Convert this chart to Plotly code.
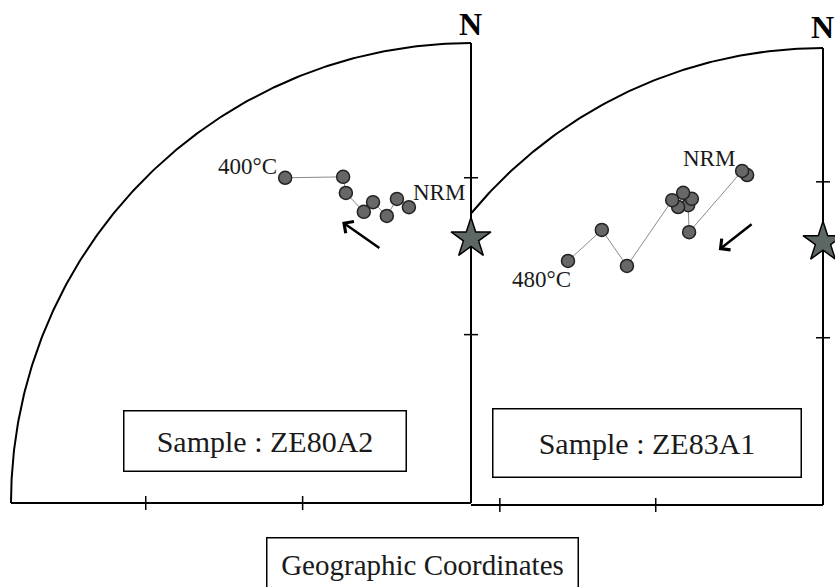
import numpy as np
import plotly.graph_objects as go

# ---------------- data (equal-area projection, east / north, unit radius) -------------
# Sample ZE80A2 : demagnetisation path from NRM to 400°C
ze80_east = [-0.135, -0.161, -0.183, -0.213, -0.233, -0.272, -0.278, -0.404]
ze80_north = [0.643, 0.661, 0.624, 0.654, 0.633, 0.674, 0.709, 0.707]
ze80_labels = ["NRM", "400°C"]

# Sample ZE83A1 : demagnetisation path from NRM to 480°C
ze83_east = [-0.166, -0.177, -0.293, -0.295, -0.287, -0.306, -0.317, -0.330, -0.429, -0.484, -0.558]
ze83_north = [0.722, 0.731, 0.597, 0.656, 0.670, 0.683, 0.652, 0.667, 0.523, 0.602, 0.534]
ze83_labels = ["NRM", "480°C"]

# arrows showing the direction of the path (tail -> head)
ze80_arrow = {"tail": (-0.196, 0.552), "head": (-0.280, 0.611)}
ze83_arrow = {"tail": (-0.153, 0.617), "head": (-0.228, 0.558)}

# reference direction (star) : declination 0, inclination ~42°
star_dec = 0.0
star_inc = 42.0
# inclination ticks on the net axes
tick_inc = [60, 30]

panel_titles = ["Sample : ZE80A2", "Sample : ZE83A1"]
footer = "Geographic Coordinates"


def eqarea_r(inc):
    return np.sqrt(2) * np.sin(np.radians((90 - np.asarray(inc, dtype=float)) / 2))


# ---------------- layout geometry -------------
W, H = 835, 587
SERIF = "Liberation Serif, Times New Roman, serif"

panels = [
    dict(cx=471, cy=503, R=460, xr=[-1.02, 0.03], yr=[-0.03, 1.03], xa="x", ya="y"),
    dict(cx=823, cy=505, R=457, xr=[-(823 - 471) / 457, 0.02], yr=[-0.03, 1.03], xa="x2", ya="y2"),
]

fig = go.Figure()

theta = np.linspace(np.pi / 2, np.pi, 200)
frame_style = dict(color="black", width=2)

data_sets = [
    (ze80_east, ze80_north, ze80_labels, ze80_arrow),
    (ze83_east, ze83_north, ze83_labels, ze83_arrow),
]

annotations = []
for i, p in enumerate(panels):
    xa, ya = p["xa"], p["ya"]
    # frame : quarter circle, vertical (N) axis, horizontal axis
    fig.add_trace(go.Scatter(x=np.cos(theta), y=np.sin(theta), mode="lines",
                             line=frame_style, xaxis=xa, yaxis=ya, hoverinfo="skip"))
    fig.add_trace(go.Scatter(x=[0, 0], y=[0, 1], mode="lines", line=frame_style,
                             xaxis=xa, yaxis=ya, hoverinfo="skip"))
    fig.add_trace(go.Scatter(x=[-1, 0], y=[0, 0], mode="lines", line=frame_style,
                             xaxis=xa, yaxis=ya, hoverinfo="skip"))
    # inclination ticks
    tr = eqarea_r(tick_inc)
    fig.add_trace(go.Scatter(x=-tr, y=[0] * len(tr), mode="markers",
                             marker=dict(symbol="line-ns", size=10, line=dict(color="black", width=1.5)),
                             xaxis=xa, yaxis=ya, cliponaxis=False, hoverinfo="skip"))
    fig.add_trace(go.Scatter(x=[0] * len(tr), y=tr, mode="markers",
                             marker=dict(symbol="line-ew", size=10, line=dict(color="black", width=1.5)),
                             xaxis=xa, yaxis=ya, cliponaxis=False, hoverinfo="skip"))
    # reference direction star
    rs = eqarea_r(star_inc)
    fig.add_trace(go.Scatter(x=[rs * np.sin(np.radians(star_dec))], y=[rs * np.cos(np.radians(star_dec))],
                             mode="markers",
                             marker=dict(symbol="star", size=30, color="#5d6763",
                                         line=dict(color="black", width=1.5)),
                             xaxis=xa, yaxis=ya, cliponaxis=False, hoverinfo="skip"))
    # demagnetisation path
    ex, nx, labels, arrow = data_sets[i]
    fig.add_trace(go.Scatter(x=ex, y=nx, mode="lines+markers",
                             line=dict(color="#8a8a8a", width=1),
                             marker=dict(size=13, color="#676767", line=dict(color="#222222", width=1.5)),
                             xaxis=xa, yaxis=ya, cliponaxis=False, hoverinfo="skip"))

    # labels at first (NRM) and last step
    if i == 0:
        annotations.append(dict(x=ex[0], y=nx[0], xref=xa, yref=ya, text=labels[0], showarrow=False,
                                xanchor="left", yanchor="middle", xshift=2, yshift=15,
                                font=dict(family=SERIF, size=23, color="#1a1a1a")))
        annotations.append(dict(x=ex[-1], y=nx[-1], xref=xa, yref=ya, text=labels[1], showarrow=False,
                                xanchor="right", yanchor="middle", xshift=-6, yshift=11,
                                font=dict(family=SERIF, size=23, color="#1a1a1a")))
    else:
        annotations.append(dict(x=ex[0], y=nx[0], xref=xa, yref=ya, text=labels[0], showarrow=False,
                                xanchor="right", yanchor="middle", xshift=-10, yshift=17,
                                font=dict(family=SERIF, size=23, color="#1a1a1a")))
        annotations.append(dict(x=ex[-1], y=nx[-1], xref=xa, yref=ya, text=labels[1], showarrow=False,
                                xanchor="right", yanchor="middle", xshift=5, yshift=-19,
                                font=dict(family=SERIF, size=23, color="#1a1a1a")))
    # direction arrow
    annotations.append(dict(x=arrow["head"][0], y=arrow["head"][1], ax=arrow["tail"][0], ay=arrow["tail"][1],
                            xref=xa, yref=ya, axref=xa, ayref=ya, text="", showarrow=True,
                            arrowhead=4, arrowsize=1.1, arrowwidth=2.5, arrowcolor="black"))
    # North label
    annotations.append(dict(x=0, y=1, xref=xa, yref=ya, text="<b>N</b>", showarrow=False,
                            xanchor="center", yanchor="middle", yshift=19 if i == 0 else 21, xshift=-1,
                            font=dict(family=SERIF, size=32, color="black")))

# sample boxes (positions in pixels of the page)
box_px = [
    dict(cx=264.5, cy=440.5, w=285, h=63),
    dict(cx=646.5, cy=442.5, w=311, h=71),
]
for t, b in zip(panel_titles, box_px):
    annotations.append(dict(x=b["cx"] / W, y=1 - b["cy"] / H, xref="paper", yref="paper",
                            text=t, showarrow=False, xanchor="center", yanchor="middle",
                            width=b["w"] - 4, height=b["h"] - 4, bordercolor="black", borderwidth=1.5,
                            borderpad=0, bgcolor="white",
                            font=dict(family=SERIF, size=30, color="#1a1a1a")))
annotations.append(dict(x=422 / W, y=1 - 564 / H, xref="paper", yref="paper",
                        text=footer, showarrow=False, xanchor="center", yanchor="middle",
                        width=310, height=52, bordercolor="black", borderwidth=1.5, borderpad=0,
                        bgcolor="white", font=dict(family=SERIF, size=29, color="#1a1a1a")))

layout_axes = {}
for i, p in enumerate(panels):
    sfx = "" if i == 0 else "2"
    xd = [(p["cx"] + p["xr"][0] * p["R"]) / W, (p["cx"] + p["xr"][1] * p["R"]) / W]
    yd = [(H - (p["cy"] - p["yr"][0] * p["R"])) / H, (H - (p["cy"] - p["yr"][1] * p["R"])) / H]
    layout_axes["xaxis" + sfx] = dict(domain=xd, range=p["xr"], visible=False, fixedrange=True)
    layout_axes["yaxis" + sfx] = dict(domain=yd, range=p["yr"], visible=False, fixedrange=True)
    if i == 1:
        layout_axes["yaxis2"]["anchor"] = "x2"
        layout_axes["xaxis2"]["anchor"] = "y2"

fig.update_layout(
    width=W, height=H,
    margin=dict(l=0, r=0, t=0, b=0),
    paper_bgcolor="white", plot_bgcolor="rgba(0,0,0,0)",
    showlegend=False,
    annotations=annotations,
    **layout_axes,
)

fig.write_html("out.html")
